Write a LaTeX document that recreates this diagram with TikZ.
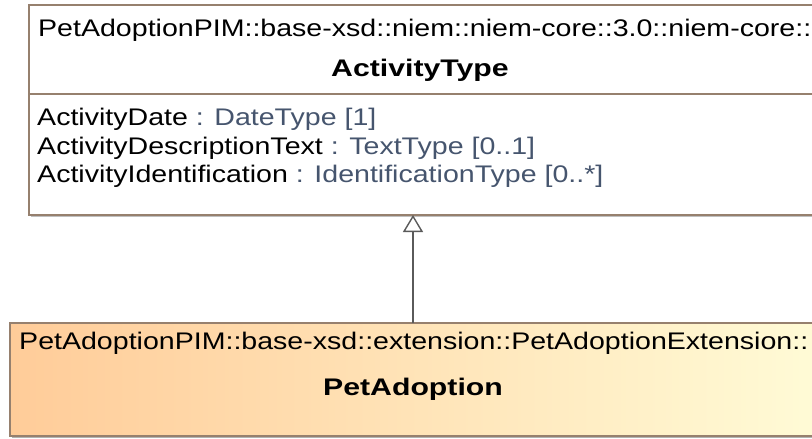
\documentclass[tikz,border=0pt]{standalone}
\usepackage{fontspec}
\setmainfont{Liberation Sans}[FakeStretch=1.19]
\newfontfamily\umlbold{Liberation Sans Bold}[FakeStretch=1.26]
\usetikzlibrary{arrows.meta}
\definecolor{umlborder}{RGB}{150,128,110}
\definecolor{typecol}{RGB}{70,85,110}
\definecolor{peachL}{RGB}{255,204,153}
\definecolor{peachR}{RGB}{255,251,214}
\definecolor{arrowcol}{RGB}{90,90,90}
\tikzset{
  classbox/.style={draw=umlborder, line width=1.6pt},
  txt/.style={inner sep=0pt, font=\fontsize{24}{28}\selectfont, text=black},
  boldtxt/.style={inner sep=0pt, font=\fontsize{24}{28}\selectfont\umlbold, text=black},
  gen/.style={draw=arrowcol, line width=1.6pt, -{Triangle[open, length=17pt, width=20pt, line width=1.4pt]}},
}
\begin{document}
\begin{tikzpicture}[x=1pt,y=-1pt]
\useasboundingbox (0,0) rectangle (812,439);
% top class
\fill[black!25] (31,7) rectangle (818,217);
\filldraw[classbox, fill=white] (29,5) rectangle (816,215);
\draw[classbox] (29,94) -- (816,94);
\node[txt, anchor=west] (tstereo) at (38,30) {PetAdoptionPIM::base-xsd::niem::niem-core::3.0::niem-core::};
\node[boldtxt] (tname) at (420,70) {ActivityType};
\node[txt, anchor=west] (a1) at (37,119) {ActivityDate \textcolor{typecol}{: DateType [1]}};
\node[txt, anchor=west] (a2) at (37,148) {ActivityDescriptionText \textcolor{typecol}{: TextType [0..1]}};
\node[txt, anchor=west] (a3) at (37,176) {ActivityIdentification \textcolor{typecol}{: IdentificationType [0..*]}};
\coordinate (topbottom) at (413,215);
% bottom class
\fill[black!30] (12,325) rectangle (820,438);
\shade[left color=peachL, right color=peachR] (10,323) rectangle (818,436);
\draw[classbox] (10,323) rectangle (818,436);
\node[txt, anchor=west] (bstereo) at (19,343) {PetAdoptionPIM::base-xsd::extension::PetAdoptionExtension::};
\node[boldtxt] (bname) at (413,389) {PetAdoption};
\coordinate (bottomtop) at (413,323);
% generalization
\draw[gen] (bottomtop) -- (topbottom);
\end{tikzpicture}
\end{document}
